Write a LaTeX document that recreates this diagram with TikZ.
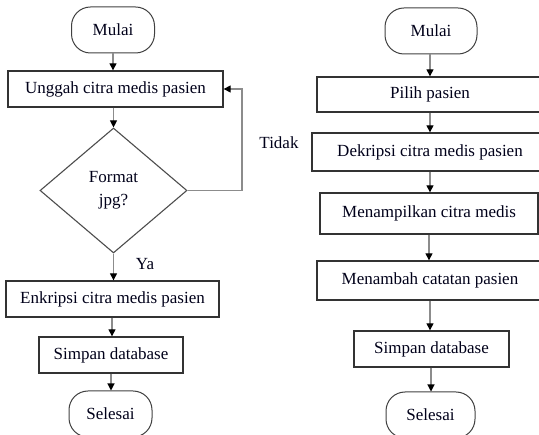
\documentclass[tikz,border=0pt]{standalone}
\usepackage{fontspec}
\setmainfont{Liberation Serif}
\usetikzlibrary{shapes.geometric,arrows.meta}
\begin{document}
\begin{tikzpicture}[x=1pt,y=-1pt,
  every node/.style={font=\fontsize{17}{23}\selectfont, text=black!90!blue},
  procbox/.style={draw=black!80, line width=1.3pt, rectangle, minimum height=#1, inner sep=0pt},
  termbox/.style={draw=black!75, line width=1pt, rectangle, rounded corners=19pt, inner sep=0pt},
  decbox/.style={draw=black!70, line width=1.1pt, diamond, aspect=1.176, inner sep=0pt,
                 minimum width=147pt, minimum height=125pt, align=center},
  flow/.style={draw=black!45, line width=1.1pt, -{Triangle[length=7pt,width=7pt,color=black]}},
  lbl/.style={inner sep=0pt}
]
\useasboundingbox (0,0) rectangle (539,435);
\clip (0,0) rectangle (539,435);

% ---- left flow: upload and encryption ----
\node[termbox, minimum width=83pt, minimum height=46pt] (m1) at (113,30) {Mulai};
\node[procbox=36pt, minimum width=215pt] (u1) at (115.5,89) {Unggah citra medis pasien};
\node[decbox] (d1) at (113.5,190.5) {Format\\jpg?};
\node[procbox=36pt, minimum width=213pt] (e1) at (112.5,299) {Enkripsi citra medis pasien};
\node[procbox=36pt, minimum width=144pt] (s1) at (111,355) {Simpan database};
\node[termbox, minimum width=83pt, minimum height=46pt] (f1) at (110.5,414) {Selesai};

\coordinate (c1) at (242,89);
\node[lbl] (tidak) at (279,143) {Tidak};
\node[lbl] (ya) at (145,264) {Ya};

\draw[flow] (m1.south) -- (m1.south |- u1.north);
\draw[flow] (u1.south -| d1.north) -- (d1.north);
\draw[flow] (d1.south) -- (d1.south |- e1.north);
\draw[flow] (e1.south -| 112,0) -- (112,0 |- s1.north);
\draw[flow] (s1.south) -- (s1.south |- f1.north);
\draw[flow] (d1.east) -| (c1) -- (u1.east);

% ---- right flow: decryption and notes ----
\node[termbox, minimum width=92pt, minimum height=46pt] (m2) at (431,31) {Mulai};
\node[procbox=35pt, minimum width=226pt] (p2) at (430,94.5) {Pilih pasien};
\node[procbox=38pt, minimum width=236pt] (k2) at (430,152) {Dekripsi citra medis pasien};
\node[procbox=41pt, minimum width=218pt] (t2) at (429,213.5) {Menampilkan citra medis};
\node[procbox=39pt, minimum width=226pt] (n2) at (430,280.5) {Menambah catatan pasien};
\node[procbox=36pt, minimum width=155pt] (s2) at (431.5,349) {Simpan database};
\node[termbox, minimum width=89pt, minimum height=46pt] (f2) at (430.5,415) {Selesai};

\draw[flow] (m2.south -| 430,0) -- (430,0 |- p2.north);
\draw[flow] (p2.south) -- (p2.south |- k2.north);
\draw[flow] (k2.south) -- (k2.south |- t2.north);
\draw[flow] (t2.south) -- (t2.south |- n2.north);
\draw[flow] (n2.south) -- (n2.south |- s2.north);
\draw[flow] (s2.south -| 431,0) -- (431,0 |- f2.north);
\end{tikzpicture}
\end{document}
